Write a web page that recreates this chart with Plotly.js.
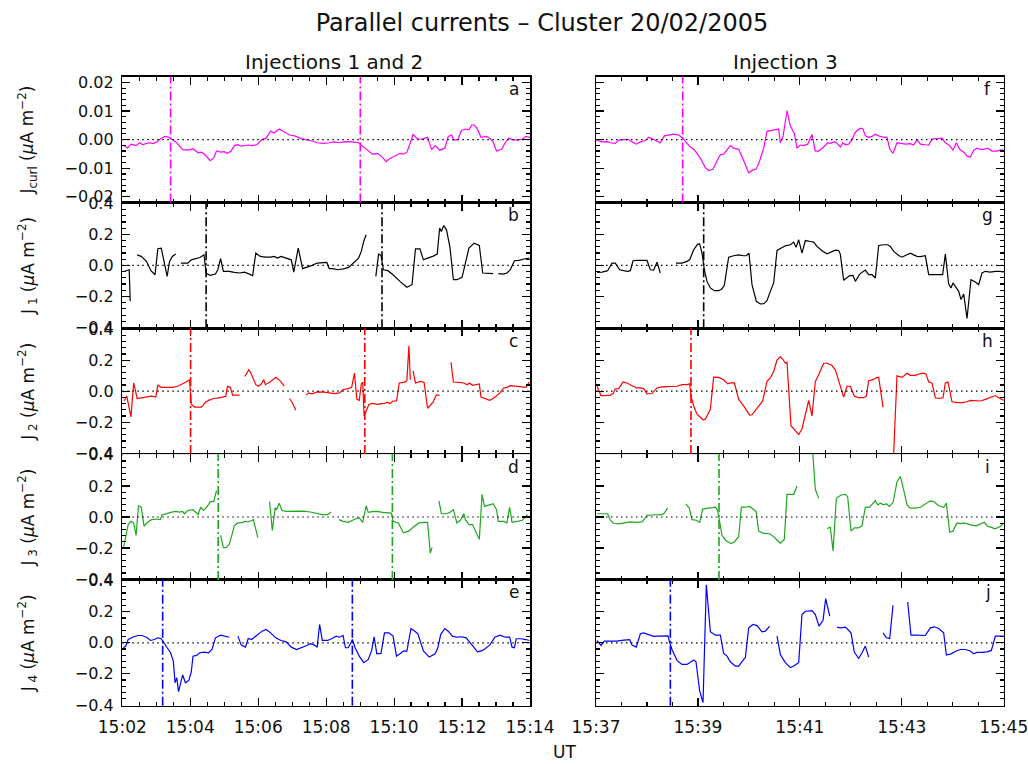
<!DOCTYPE html>
<html><head><meta charset="utf-8">
<script src="https://cdn.plot.ly/plotly-3.0.1.min.js"></script>
<style>html,body{margin:0;padding:0;background:#fff;}#chart{width:1028px;height:764px;}</style>
</head><body><div id="chart"></div>
<script>
// Time in minutes after 15:00 UT on 20/02/2005; null marks a data gap.
// Current densities in microampere per square metre.

// Panel a: J_curl, injections 1 and 2
const tA = [2.03,2.152,2.254,2.406,2.508,2.609,2.711,2.812,2.914,3.015,3.117,3.249,3.371,3.472,3.574,3.675,3.777,3.929,4.081,4.233,4.335,4.436,4.589,4.69,4.772,4.893,4.995,5.096,5.198,5.299,5.401,5.502,5.604,5.706,5.807,5.959,6.112,6.233,6.365,6.467,6.619,6.771,6.924,7.076,7.228,7.381,7.533,7.736,7.939,8.091,8.243,8.396,8.548,8.751,8.954,9.056,9.208,9.36,9.512,9.665,9.766,9.868,9.969,10.071,10.172,10.274,10.376,10.477,10.558,10.68,10.832,10.985,11.106,11.208,11.34,11.492,11.594,11.695,11.746,11.878,11.98,12.101,12.203,12.284,12.355,12.436,12.558,12.711,12.812,12.914,13.015,13.167,13.269,13.37,13.472,13.624,13.777,13.878,14.0];
const jA = [-0.0019,-0.0029,-0.0016,-0.0021,-0.0011,-0.0018,-0.0013,-0.0011,-0.0014,-0.0008,0.0002,0.0011,0.0008,0,-0.0008,-0.0021,-0.0035,-0.0037,-0.0032,-0.0046,-0.0044,-0.0053,-0.0074,-0.0063,-0.004,-0.0044,-0.0042,-0.0048,-0.004,-0.0021,-0.0018,-0.0023,-0.0021,-0.0019,-0.0021,-0.0018,0,0.0005,0.003,0.0023,0.0037,0.0026,0.0016,0.0013,0.0005,0,-0.0003,-0.0011,-0.0013,-0.0011,-0.0008,-0.0011,-0.0007,-0.0008,-0.0011,-0.0021,-0.0037,-0.0051,-0.0048,-0.0063,-0.0077,-0.0067,-0.0061,-0.0053,-0.0048,-0.0051,-0.0044,-0.0011,0.0018,0.0003,0.0002,0.0008,-0.0035,-0.0021,-0.0037,-0.003,0.0011,0.0016,-0.0002,0,0.0032,0.0037,0.0034,0.0051,0.0051,0.004,0.0008,0.0011,0.0005,-0.0008,-0.004,-0.0034,-0.0011,0.0005,0,-0.0002,0.0002,0.0011,0.0008];

// Panel b: J1
const tB = [2.071,2.203,2.233,null,2.437,2.558,2.711,2.843,2.964,3.046,3.147,3.249,3.32,3.391,3.472,3.574,null,3.726,3.929,4.03,4.183,4.284,4.406,4.467,4.589,4.741,4.812,4.893,4.975,5.147,5.299,5.452,5.604,5.756,5.837,5.929,6.061,6.213,6.365,6.467,6.568,6.67,6.822,6.974,7.046,7.178,7.309,7.431,7.584,7.736,7.888,8.02,8.091,8.193,8.345,8.548,8.67,8.751,8.853,8.954,9.035,9.106,9.177,null,9.462,9.543,9.614,9.685,9.817,9.969,10.172,10.376,10.528,10.629,10.761,10.863,10.985,11.137,11.269,11.34,11.391,11.462,11.543,11.644,11.746,11.847,12.0,12.101,12.203,12.355,12.508,12.609,12.761,12.914,null,13.066,13.218,13.32,13.421,13.543,13.675,13.827,13.98];
const jB = [-0.038,-0.028,-0.231,null,0.068,0.058,0.026,-0.034,-0.06,0.107,0.111,0.004,-0.071,0.026,0.058,0.073,null,0.015,0.015,0.036,0.043,0.051,0.068,-0.051,-0.064,-0.056,-0.028,0.043,-0.038,-0.038,-0.045,-0.049,-0.043,-0.06,-0.066,0.079,0.058,0.053,0.053,0.058,0.047,0.058,0.047,0.036,-0.043,0.111,-0.021,-0.013,0,0.015,0.019,0.019,-0.021,-0.021,-0.028,-0.021,-0.011,0.004,0.026,0.047,0.09,0.154,0.197,null,-0.071,0.073,0.064,-0.028,-0.034,-0.06,-0.103,-0.141,-0.124,0.107,0.107,0.036,0.047,0.058,0.073,0.24,0.218,0.257,0.229,0.116,-0.092,-0.092,-0.077,0.026,0.111,0.143,0.128,-0.049,-0.053,-0.053,null,-0.053,-0.056,-0.049,-0.028,0.03,0.032,0.041,0.047];

// Panel c: J2
const tC = [2.051,2.132,2.254,2.335,2.437,2.558,2.711,2.863,2.985,3.046,3.147,3.269,3.472,3.624,3.777,3.878,3.98,4.03,4.132,4.335,4.436,4.538,4.69,4.893,5.046,5.096,5.178,5.249,5.401,5.452,null,5.604,5.726,5.807,5.929,6.01,6.091,6.162,6.213,6.365,6.518,6.639,6.771,null,6.924,7.005,7.106,null,7.411,7.482,7.584,7.736,7.939,8.091,8.243,8.396,8.497,8.65,8.751,8.832,8.904,8.974,9.035,9.076,9.117,9.177,9.259,9.36,9.512,9.614,9.716,9.817,9.868,9.969,10.071,10.152,10.294,10.376,10.436,10.477,null,10.558,10.629,10.782,10.883,10.985,11.137,11.238,11.34,null,11.675,11.746,11.898,12.051,12.152,12.223,12.304,12.406,12.508,12.558,12.711,12.812,12.914,13.015,13.117,13.218,13.32,13.421,13.574,13.726,13.878,13.98];
const jC = [-0.063,-0.032,-0.165,0.053,-0.047,-0.042,-0.036,-0.032,-0.038,0.038,0.025,0.025,0.025,0.032,0.047,0.059,0.074,-0.085,-0.102,-0.102,-0.074,-0.059,-0.047,-0.042,-0.032,0.032,0.025,-0.025,-0.025,-0.025,null,0.095,0.138,0.106,0.042,0.032,0.047,0.074,0.042,0.063,0.089,0.068,0.032,null,-0.047,-0.074,-0.123,null,-0.025,-0.011,-0.017,-0.004,-0.006,-0.011,-0.015,-0.011,0.011,0.017,0.025,0.116,-0.053,-0.059,0.047,0.059,-0.159,-0.127,-0.085,-0.078,-0.085,-0.08,-0.078,-0.07,-0.08,-0.063,-0.063,0.053,0.057,0.068,0.292,0.074,null,0.131,0.053,0.063,0.057,-0.11,-0.074,-0.025,-0.025,null,0.186,0.059,0.057,0.053,0.042,0.053,0.038,0.042,0.047,-0.038,-0.053,-0.059,-0.047,-0.032,-0.011,0.021,0.025,0.036,0.032,0.028,0.025,0.059];

// Panel d: J3
const tD = [2.03,2.102,2.173,2.254,2.335,2.406,2.477,2.558,2.64,2.741,2.863,3.015,3.117,3.168,3.269,3.421,3.574,3.675,3.777,3.827,3.929,4.081,4.233,4.305,4.386,4.487,4.589,4.69,4.772,null,4.893,4.975,5.046,5.147,5.218,5.299,5.401,5.502,5.604,5.706,5.858,5.99,null,6.335,6.416,6.497,6.548,6.619,6.7,6.822,6.974,7.127,7.33,7.533,7.736,7.888,8.04,8.142,null,8.375,8.497,8.65,8.751,8.853,8.974,9.076,9.177,9.238,9.36,9.512,9.665,9.817,9.919,9.969,10.122,10.274,10.426,10.578,10.731,10.883,10.985,11.066,11.116,null,11.32,11.391,11.543,11.644,11.746,11.847,11.949,12.051,12.101,12.203,12.304,12.457,12.508,12.589,12.66,12.812,12.914,13.015,13.066,13.218,13.32,13.401,13.472,13.624,13.777,13.878,13.929];
const jD = [-0.203,-0.123,-0.049,-0.028,-0.038,-0.118,0.072,0.063,-0.059,-0.034,-0.017,-0.013,-0.017,0.015,0.019,0.03,0.036,0.032,0.036,0.021,0.042,0.047,0.015,0.063,0.042,0.063,0.099,0.099,0.169,null,-0.118,-0.197,-0.197,-0.176,-0.123,-0.055,-0.038,-0.038,-0.028,-0.032,-0.017,-0.133,null,0.099,-0.087,0.057,0.051,0.089,0.042,0.036,0.036,0.04,0.038,0.032,0.021,0.015,0.015,0.032,null,-0.017,-0.028,-0.034,-0.021,-0.013,-0.006,-0.034,0.072,0.03,0.034,0.036,0.03,0.028,0.025,-0.028,-0.038,-0.102,-0.091,-0.063,-0.038,-0.034,-0.034,-0.233,-0.197,null,0.104,0.021,0.021,0.03,0.047,-0.038,-0.021,0.021,-0.017,-0.049,-0.049,-0.118,-0.144,0.146,0.068,0.078,0.085,0.047,-0.028,-0.028,-0.038,0.063,-0.034,-0.028,-0.021,0.004,0.015];

// Panel e: J4
const tE = [2.03,2.102,2.173,2.305,2.457,2.579,2.711,2.832,2.944,3.046,3.147,3.218,3.32,3.421,3.502,3.553,3.604,3.655,3.726,3.777,3.858,3.959,4.03,4.081,4.183,4.284,4.416,4.538,4.64,4.741,4.893,4.995,5.147,null,5.401,5.502,5.624,5.706,5.807,5.959,6.112,6.233,6.365,6.518,6.67,6.822,6.974,7.127,7.279,7.431,7.533,7.655,7.736,7.807,7.888,8.04,8.162,8.294,8.396,8.497,8.568,8.65,8.731,8.771,8.853,8.974,9.106,9.238,9.34,9.411,9.492,9.614,9.716,9.848,9.969,10.071,10.172,10.274,10.376,10.497,10.629,10.7,10.862,11.035,11.208,11.289,11.37,11.492,11.594,11.716,11.847,12.0,12.122,12.254,12.457,12.609,12.812,12.964,13.117,13.269,13.401,13.472,13.543,13.594,13.726,13.878,13.98];
const jE = [-0.032,-0.021,0.021,0.036,0.047,0.047,0.036,0.015,0.021,0.032,0.026,0,-0.032,-0.064,-0.118,-0.257,-0.225,-0.314,-0.257,-0.207,-0.257,-0.242,-0.188,-0.086,-0.081,-0.064,-0.06,-0.064,-0.043,0.032,0.049,0.043,0.036,null,0.043,-0.015,-0.028,0.028,0.021,0.049,0.075,0.086,0.064,0.032,0.015,0.006,-0.028,-0.043,-0.032,-0.017,-0.006,-0.015,-0.028,0.118,0.015,0.015,0.026,0.043,0.036,0.047,-0.032,-0.032,0,0.021,-0.032,-0.086,-0.128,-0.107,-0.049,0.039,-0.071,-0.068,0.064,0.064,0.043,-0.086,-0.071,-0.053,-0.053,0.092,0.071,0.058,-0.053,-0.092,-0.071,-0.032,0.053,0.092,0.075,0.043,0.036,0.039,0.032,-0.006,-0.058,-0.049,-0.015,0.036,0.049,0.036,0.036,-0.028,-0.032,0.026,0.026,0.021,0.015];

// Panel f: J_curl, injection 3
const tF = [37.02,37.118,37.216,37.281,37.379,37.445,37.543,37.641,37.706,37.791,37.87,37.968,38.033,38.099,38.197,38.262,38.341,38.426,38.524,38.622,38.707,38.773,38.851,38.917,38.982,39.06,39.145,39.211,39.296,39.374,39.44,39.505,39.571,39.636,39.701,39.8,39.898,39.996,40.081,40.146,40.212,40.29,40.355,40.453,40.539,40.584,40.617,40.67,40.748,40.813,40.892,40.944,41.009,41.075,41.153,41.238,41.303,41.369,41.467,41.545,41.598,41.676,41.729,41.794,41.846,41.892,41.958,42.023,42.088,42.187,42.239,42.285,42.35,42.416,42.481,42.547,42.645,42.71,42.763,42.828,42.906,42.985,43.07,43.168,43.233,43.299,43.364,43.462,43.528,43.593,43.691,43.789,43.855,43.94,44.005,44.071,44.136,44.215,44.28,44.345,44.411,44.476,44.542,44.607,44.686,44.771,44.869,44.947,45.0];
const jF = [-0.0002,-0.0008,-0.0007,-0.0011,-0.0013,-0.0002,0,0,-0.0008,-0.0016,-0.0008,-0.0003,0.0008,0.0002,-0.0005,-0.0011,0.0013,0.0017,0.0019,0.0016,0.0005,-0.0011,-0.0026,-0.0034,-0.0048,-0.0069,-0.0098,-0.0108,-0.0104,-0.0074,-0.0053,-0.0051,-0.0037,-0.0021,-0.003,-0.0034,-0.0074,-0.0116,-0.0106,-0.0103,-0.0074,-0.003,0.0029,0.0032,0.0037,0.0037,-0.0011,0.0011,0.0101,0.0048,0.0021,-0.003,-0.0019,-0.0021,-0.0016,0.0018,-0.004,-0.004,-0.0026,-0.0011,-0.0013,-0.0008,-0.0013,-0.0026,-0.0011,-0.0018,-0.0016,0,0.0026,0.004,0.0037,0.0013,0.0008,0.0011,0.0019,0.0013,0.0008,0.0008,-0.0032,-0.0048,-0.0011,-0.0013,-0.0016,-0.0014,-0.0019,0,-0.0016,-0.0018,-0.0019,0.0002,0.0003,0.0005,-0.0011,-0.0021,-0.0037,-0.0011,-0.0034,-0.0044,-0.0058,-0.0061,-0.0037,-0.003,-0.0034,-0.0034,-0.003,-0.004,-0.004,-0.0036,-0.0037];

// Panel g: J1
const tG = [37.02,37.118,37.229,37.314,37.379,37.464,37.543,37.621,37.674,37.726,37.804,37.903,38.001,38.066,38.132,38.197,38.262,null,38.57,38.688,38.786,38.838,38.917,38.995,39.034,39.08,39.126,39.178,39.244,39.322,39.407,39.473,39.518,39.603,39.701,39.8,39.898,39.95,40.002,40.061,40.146,40.225,40.29,40.355,40.421,40.486,40.552,40.63,40.715,40.813,40.879,40.925,40.977,41.042,41.108,41.206,41.271,41.337,41.435,41.533,41.631,41.696,41.762,41.794,41.86,41.925,41.978,42.043,42.089,42.174,42.285,42.35,42.416,42.481,42.547,42.645,42.723,42.776,42.841,42.939,43.005,43.07,43.168,43.233,43.299,43.364,43.462,43.528,43.626,43.724,43.802,43.855,43.92,43.966,44.005,44.071,44.117,44.163,44.215,44.28,44.358,44.443,44.509,44.574,44.64,44.738,44.836,44.934,45.0];
const jG = [-0.045,-0.043,-0.034,0.015,0.015,-0.028,-0.034,-0.038,-0.034,0.03,0.032,0.032,0.032,-0.028,-0.03,0.021,-0.049,null,0.015,0.015,0.026,0.036,0.101,0.137,0.139,0.079,-0.028,-0.103,-0.145,-0.163,-0.163,-0.15,-0.128,0.053,0.062,0.068,0.062,0.062,0.079,-0.124,-0.231,-0.248,-0.246,-0.227,-0.167,-0.113,0.096,0.111,0.126,0.133,0.15,0.116,0.165,0.079,0.16,0.154,0.15,0.122,0.094,0.075,0.09,0.098,0.096,0.073,-0.096,-0.081,-0.066,-0.064,-0.103,-0.056,-0.03,-0.06,-0.06,-0.081,0.128,0.133,0.133,0.122,0.09,0.064,0.053,0.064,0.079,0.068,0.058,0.056,0.062,-0.06,-0.06,-0.06,-0.06,0.073,-0.118,-0.145,-0.113,-0.145,-0.167,-0.22,-0.184,-0.342,-0.092,-0.107,-0.124,-0.049,-0.038,-0.043,-0.038,-0.038,-0.043];

// Panel h: J2
const tH = [37.02,37.098,37.183,37.281,37.334,37.379,37.445,37.53,37.608,37.706,37.791,37.87,37.935,38.001,38.099,38.197,38.295,38.393,38.491,38.589,38.688,38.786,38.838,38.864,38.917,38.982,39.1,39.145,39.244,39.309,39.407,39.505,39.584,39.636,39.715,39.8,39.898,40.015,40.061,40.159,40.271,40.355,40.421,40.486,40.552,40.617,40.663,40.715,40.748,40.826,40.911,40.977,41.042,41.173,41.238,41.304,41.369,41.467,41.533,41.631,41.696,41.762,41.86,41.925,41.991,42.069,42.154,42.252,42.305,42.35,42.436,42.514,42.547,42.632,null,42.828,42.906,43.005,43.103,43.168,43.266,43.351,43.43,43.476,43.528,43.593,43.659,43.724,43.809,43.855,43.907,43.986,44.084,44.182,44.28,44.345,44.443,44.542,44.64,44.738,44.836,44.902,44.967,45.0];
const jH = [0.032,-0.028,-0.028,-0.025,-0.015,0.015,0.017,0.059,0.053,0.038,0.021,0.021,0.017,-0.017,-0.015,0.021,0.028,0.03,0.03,0.032,0.042,0.042,0.047,-0.032,-0.095,-0.148,-0.184,-0.18,-0.116,0.091,0.089,0.074,0.047,0.053,0.053,-0.053,-0.095,-0.154,-0.152,-0.112,-0.063,0.063,0.085,0.127,0.201,0.222,0.207,0.18,0.186,-0.222,-0.258,-0.279,-0.243,-0.059,-0.159,0.063,0.106,0.18,0.18,0.165,0.138,0.063,-0.038,0.032,0.032,-0.032,-0.042,-0.042,-0.032,0.068,0.074,0.089,0.089,-0.102,null,-0.5,0.099,0.089,0.116,0.102,0.102,0.112,0.116,0.11,0.059,0.053,-0.042,-0.047,-0.042,0.053,0.059,-0.068,-0.074,-0.074,-0.068,-0.059,-0.063,-0.063,-0.053,-0.038,-0.028,-0.042,-0.053,-0.059];

// Panel i: J3
const tI = [37.02,37.137,37.229,37.281,37.347,37.445,37.543,37.674,37.804,37.903,37.968,38.001,38.099,38.197,38.295,38.341,38.406,null,38.766,38.831,38.884,38.969,39.034,39.093,39.178,39.276,39.342,39.388,39.44,39.473,39.558,39.649,39.714,39.8,39.852,39.93,40.015,40.094,40.14,40.192,40.29,40.408,40.473,40.552,40.617,40.695,40.748,40.813,40.879,40.944,null,41.245,41.304,41.369,null,41.533,41.598,41.651,41.716,41.808,41.893,41.938,42.004,42.069,42.154,42.22,42.285,42.37,42.416,42.481,42.527,42.58,42.645,42.697,42.756,42.828,42.906,42.972,43.037,43.103,43.168,43.266,43.364,43.462,43.561,43.626,43.724,43.822,43.875,43.94,44.005,44.084,44.163,44.215,44.313,44.411,44.476,44.62,44.686,44.771,44.836,44.934,45.0];
const jI = [0.021,0.021,0.021,-0.021,-0.042,-0.044,-0.038,-0.032,-0.034,-0.032,-0.006,0.011,0.013,0.013,0.015,0.025,0.057,null,0.083,0.057,-0.017,-0.021,-0.034,0.051,0.055,0.057,0.063,0.042,-0.055,-0.118,-0.154,-0.171,-0.161,-0.127,0.063,0.063,0.068,0.047,0.036,-0.091,-0.106,-0.108,-0.123,-0.148,-0.169,-0.144,0.146,0.146,0.146,0.199,null,0.45,0.178,0.121,null,-0.074,-0.066,-0.218,0.121,0.142,0.146,0.131,-0.091,-0.07,-0.07,-0.055,0.063,0.063,0.078,0.106,0.078,0.089,0.078,0.085,0.068,0.093,0.226,0.262,0.174,0.078,0.057,0.057,0.063,0.083,0.104,0.099,0.072,0.063,0.089,-0.097,-0.091,-0.038,-0.042,-0.038,-0.049,-0.055,-0.055,-0.034,-0.059,-0.07,-0.076,-0.059,-0.042];

// Panel j: J4
const tJ = [37.02,37.098,37.164,37.281,37.412,37.543,37.661,37.706,37.791,37.87,37.935,38.033,38.132,38.23,38.328,38.413,38.446,38.491,38.589,38.688,38.786,38.917,38.962,39.034,39.1,39.165,39.244,39.342,39.44,39.505,39.571,39.636,39.734,39.8,39.898,39.93,39.996,40.081,40.159,40.257,40.323,40.408,null,40.552,40.617,40.715,40.813,40.879,40.977,41.042,41.108,41.239,41.304,41.376,41.455,41.507,41.586,null,41.729,41.794,41.893,42.004,42.069,42.154,42.22,42.285,42.35,null,42.632,42.697,42.763,42.828,null,43.116,43.181,43.286,43.364,43.462,43.561,43.639,43.724,43.822,43.875,43.966,44.071,44.149,44.248,44.346,44.411,44.476,44.575,44.673,44.758,44.836,44.921,45.0];
const jJ = [0.015,-0.017,0.011,0.011,0.011,0.017,0.021,-0.015,-0.028,0.058,0.064,0.053,0.041,0.043,0.045,0.045,0,-0.043,-0.113,-0.139,-0.139,-0.111,-0.122,-0.31,-0.385,0.374,0.071,0.049,0.049,-0.068,-0.086,-0.122,-0.15,-0.15,-0.107,-0.096,0.096,0.118,0.111,0.071,0.075,0.107,null,0.043,-0.075,-0.128,-0.16,-0.15,-0.128,0.182,0.203,0.207,0.182,0.107,0.145,0.284,0.171,null,0.101,0.096,0.101,0.064,-0.06,-0.101,-0.064,-0.021,-0.092,null,0.064,0.032,0.028,0.242,null,0.263,0.049,0.049,0.047,0.047,0.096,0.103,0.092,0.064,-0.079,-0.071,-0.053,-0.043,-0.043,-0.053,-0.071,-0.062,-0.062,-0.058,-0.049,0.043,0.043,0.043];

// Event times (minutes after 15:00) shown as dash-dot lines
const markA = [3.421, 9.005], markB = [4.467, 9.644], markC = [4.010, 9.137], markD = [4.822, 9.949], markE = [3.188, 8.771];
const markF = [38.70], markG = [39.113], markH = [38.864], markI = [39.414], markJ = [38.459];

const letters = ['a','b','c','d','e','f','g','h','i','j'];
const yTitles = ['J<sub>curl</sub> (<i>μ</i>A m<sup>−2</sup>)','J<sub> 1</sub> (<i>μ</i>A m<sup>−2</sup>)','J<sub> 2</sub> (<i>μ</i>A m<sup>−2</sup>)','J<sub> 3</sub> (<i>μ</i>A m<sup>−2</sup>)','J<sub> 4</sub> (<i>μ</i>A m<sup>−2</sup>)'];
const colTitles = ['Injections 1 and 2', 'Injection 3'];
const timeRanges = [[2, 14], [37, 45]];

function ts(m){
  if(m === null) return null;
  const ms = Math.round(m*60000);
  const mm = Math.floor(ms/60000);
  const s = (ms - mm*60000)/1000;
  return '2005-02-20 15:' + String(mm).padStart(2,'0') + ':' + s.toFixed(3).padStart(6,'0');
}

const panels = [
  {t:tA,j:jA,c:'#ff00ff',m:markA},{t:tB,j:jB,c:'#000000',m:markB},{t:tC,j:jC,c:'#ff0000',m:markC},{t:tD,j:jD,c:'#1fa81f',m:markD},{t:tE,j:jE,c:'#0000ff',m:markE},
  {t:tF,j:jF,c:'#ff00ff',m:markF},{t:tG,j:jG,c:'#000000',m:markG},{t:tH,j:jH,c:'#ff0000',m:markH},{t:tI,j:jI,c:'#1fa81f',m:markI},{t:tJ,j:jJ,c:'#0000ff',m:markJ}
];

const W = 1028, H = 764;
const colX = [[122.3, 530], [596, 1003.7]];
const top0 = 76.7, rowH = 125.8;
const data = [], shapes = [], annotations = [];
const layout = {
  width: W, height: H, margin:{l:0,r:0,t:0,b:0}, showlegend:false,
  paper_bgcolor:'#fff', plot_bgcolor:'#fff',
  font:{family:'DejaVu Sans, sans-serif', size:16, color:'#111'},
  title:{text:'Parallel currents – Cluster 20/02/2005', x:542/W, xanchor:'center', y:1-23/H, yanchor:'middle', font:{size:24, color:'#111'}}
};

panels.forEach((p, i) => {
  const col = i < 5 ? 0 : 1, row = i % 5;
  const k = i + 1, xs = 'x' + (k===1?'':k), ys = 'y' + (k===1?'':k);
  const xa = 'xaxis' + (k===1?'':k), ya = 'yaxis' + (k===1?'':k);
  const isCurl = row === 0;
  const top = top0 + row*rowH;
  const tr = timeRanges[col];
  data.push({type:'scatter', mode:'lines', x:p.t.map(ts), y:p.j, xaxis:xs, yaxis:ys,
    line:{color:p.c, width:1.2}, connectgaps:false, hoverinfo:'skip'});
  layout[xa] = {
    type:'date', domain:[colX[col][0]/W, colX[col][1]/W], anchor:ys,
    range:[ts(tr[0]), ts(tr[1])], tickformat:'%H:%M', dtick:120000, tick0:ts(tr[0]),
    ticks:'inside', ticklen:8, tickwidth:1.2, tickcolor:'#000', mirror:'allticks',
    showline:true, linecolor:'#000', linewidth:1.5, showgrid:false, zeroline:false,
    showticklabels: row===4, tickfont:{size:17}, ticklabelstandoff:5, ticklabeloverflow:'allow',
    minor:{dtick:30000, tick0:ts(tr[0]), ticks:'inside', ticklen:4, tickwidth:1.2, tickcolor:'#000', showgrid:false}
  };
  const yax = {
    domain:[1-(top+rowH)/H, 1-top/H], anchor:xs,
    range: isCurl ? [-0.022, 0.022] : [-0.405, 0.405],
    dtick: isCurl ? 0.01 : 0.2, tick0:0, tickformat: isCurl ? '.2f' : '.1f',
    ticks:'inside', ticklen:8, tickwidth:1.2, tickcolor:'#000', mirror:'allticks',
    showline:true, linecolor:'#000', linewidth:1.5, showgrid:false, zeroline:false,
    showticklabels: col===0, tickfont:{size:16}, ticklabelstandoff:4,
    minor:{dtick: isCurl ? 0.002 : 0.04, tick0:0, ticks:'inside', ticklen:4, tickwidth:1.2, tickcolor:'#000', showgrid:false}
  };
  if(col === 0) yax.title = {text:yTitles[row], font:{size:17}, standoff: isCurl ? 26 : 36};
  layout[ya] = yax;
  // dotted zero line
  shapes.push({type:'line', xref:xs+' domain', x0:0, x1:1, yref:ys, y0:0, y1:0, line:{color:'#000', width:1.2, dash:'1.5px,3.5px'}});
  // event lines
  p.m.forEach(mt => shapes.push({type:'line', xref:xs, x0:ts(mt), x1:ts(mt), yref:ys+' domain', y0:0, y1:1, line:{color:p.c, width:1.6, dash:'9px,3px,2px,3px'}}));
  annotations.push({text:letters[i], xref:xs+' domain', yref:ys+' domain', x:1-16/407.7, y:1-12.5/rowH, xanchor:'center', yanchor:'middle', showarrow:false, font:{size:17, color:'#111'}});
});

annotations.push({text:colTitles[0], xref:'paper', yref:'paper', x:334/W, y:1-62/H, xanchor:'center', yanchor:'middle', showarrow:false, font:{size:20, color:'#111'}});
annotations.push({text:colTitles[1], xref:'paper', yref:'paper', x:785/W, y:1-62/H, xanchor:'center', yanchor:'middle', showarrow:false, font:{size:20, color:'#111'}});
annotations.push({text:'UT', xref:'paper', yref:'paper', x:564/W, y:1-752/H, xanchor:'center', yanchor:'middle', showarrow:false, font:{size:17, color:'#111'}});

layout.shapes = shapes;
layout.annotations = annotations;
Plotly.newPlot('chart', data, layout, {staticPlot:true, displayModeBar:false});
</script>
</body></html>
